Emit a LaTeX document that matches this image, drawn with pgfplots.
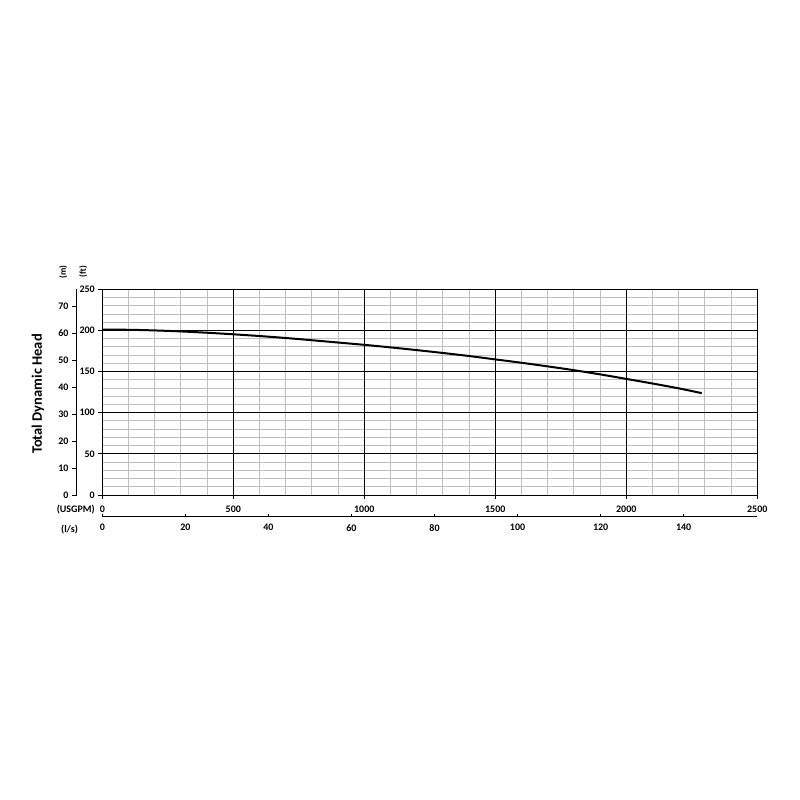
\documentclass[border=0pt]{standalone}
\usepackage{fontspec}
\setmainfont{Carlito}
\usepackage{pgfplots}
\pgfplotsset{compat=1.18}

\pgfplotsset{
  pumpticks/.style={
    ticklabel style={font=\fontsize{10}{12}\selectfont\bfseries},
    /pgf/number format/assume math mode=true,
    /pgf/number format/1000 sep={},
    tick style={black, line width=0.8pt},
  },
  headbox/.style={
    at={(102.3pt,305pt)}, anchor=south west,
    scale only axis, width=655pt, height=205.7pt,
    xmin=0, xmax=2500, ymin=0, ymax=250,
    xtick={0,500,...,2500}, ytick={0,50,...,250},
    minor x tick num=4, minor y tick num=4,
  },
}

\begin{document}
\begin{tikzpicture}
\path[use as bounding box] (0pt,0pt) rectangle (800pt,800pt);

% minor grid, ticks and labels (ft vs USGPM)
\begin{axis}[
  headbox,
  grid=minor,
  minor grid style={draw=gray!50, line width=0.9pt},
  axis line style={black, line width=0.9pt},
  tick align=outside, major tick length=4pt, minor tick length=0pt,
  xtick pos=bottom, ytick pos=left,
  pumpticks,
  xticklabel style={yshift=-3pt},
]
\addplot[draw=none] coordinates {(0,0)};
\end{axis}

% major grid on top, then the head curve
\begin{axis}[
  headbox,
  grid=major,
  major grid style={draw=black, line width=0.8pt},
  axis line style={black, line width=0.9pt},
  major tick length=0pt, minor tick length=0pt,
  xticklabels={}, yticklabels={},
]
\addplot[black, line width=2pt, smooth] coordinates {
  (0,201) (100,200.8) (200,200) (300,198.8) (400,197.2) (500,195.3)
  (600,193.2) (700,190.8) (800,188.1) (900,185.3) (1000,182.5)
  (1100,179.4) (1200,176.1) (1300,172.6) (1400,168.9) (1500,164.8)
  (1600,160.7) (1700,156.3) (1800,151.7) (1900,146.6) (2000,141.1)
  (2100,135.5) (2200,129.6) (2288,123.8)
};
\end{axis}

% metres scale
\begin{axis}[
  at={(76.5pt,305pt)}, anchor=south west,
  scale only axis, width=20pt, height=205.7pt,
  xmin=0, xmax=1, ymin=0, ymax=76.2,
  hide x axis, axis y line*=left,
  ytick={0,10,...,70},
  axis line style={black, line width=0.8pt},
  tick align=outside, major tick length=4.5pt,
  pumpticks,
]
\addplot[draw=none] coordinates {(0,0)};
\end{axis}

% l/s scale
\begin{axis}[
  at={(102.3pt,283.3pt)}, anchor=south west,
  scale only axis, width=655pt, height=10pt,
  xmin=0, xmax=157.73, ymin=0, ymax=1,
  hide y axis, axis x line*=bottom,
  xtick={0,20,...,140},
  axis line style={black, line width=0.8pt},
  tick align=inside, major tick length=3pt,
  pumpticks,
  xticklabel style={yshift=-4pt},
]
\addplot[draw=none] coordinates {(0,0)};
\end{axis}

\node[rotate=90, font=\fontsize{14.5}{16}\selectfont\bfseries] at (38pt,406pt) {Total Dynamic Head};
\node[rotate=90, font=\fontsize{9}{10}\selectfont\bfseries] at (63.3pt,528.3pt) {(m)};
\node[rotate=90, font=\fontsize{9}{10}\selectfont\bfseries] at (83.3pt,528.3pt) {(ft)};
\node[font=\fontsize{10}{12}\selectfont\bfseries] at (75.8pt,290.2pt) {(USGPM)};
\node[font=\fontsize{10}{12}\selectfont\bfseries] at (69.5pt,270.5pt) {(l/s)};
\end{tikzpicture}
\end{document}
